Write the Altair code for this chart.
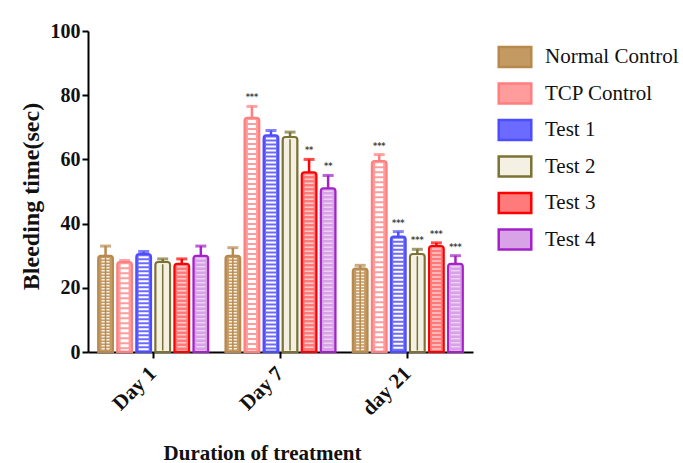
import altair as alt
import pandas as pd

days = ["Day 1", "Day 7", "day 21"]
groups = ["Normal Control", "TCP Control", "Test 1", "Test 2", "Test 3", "Test 4"]

means = {
    "Normal Control": [30, 30, 26],
    "TCP Control": [28, 73, 59.5],
    "Test 1": [30.5, 67.5, 36],
    "Test 2": [28, 67, 30.5],
    "Test 3": [27.5, 56, 33],
    "Test 4": [30, 51, 27.5],
}
errs = {
    "Normal Control": [3, 2.5, 1],
    "TCP Control": [0.5, 3.5, 2],
    "Test 1": [0.8, 1.5, 1.5],
    "Test 2": [1, 1.5, 1.5],
    "Test 3": [1.5, 4, 1],
    "Test 4": [3, 4, 2.5],
}
stars = {
    "Normal Control": ["", "", ""],
    "TCP Control": ["", "***", "***"],
    "Test 1": ["", "", "***"],
    "Test 2": ["", "", "***"],
    "Test 3": ["", "**", "***"],
    "Test 4": ["", "**", "***"],
}

line_colors = ["#b8894d", "#ff7f7f", "#4d4dff", "#7b7233", "#ff0000", "#a321c6"]
fill_colors = ["#c49a63", "#ff9c9c", "#6b6bff", "#f4f1e4", "#ff7a7a", "#d8a2e6"]

rows = []
for g in groups:
    for i, d in enumerate(days):
        rows.append({"day": d, "group": g, "mean": means[g][i], "err": errs[g][i], "star": stars[g][i]})
df = pd.DataFrame(rows)

FONT = "Liberation Serif"

x_enc = alt.X(
    "day:N",
    sort=days,
    scale=alt.Scale(domain=days, paddingInner=0.12, paddingOuter=0.072),
    axis=alt.Axis(
        title="Duration of treatment",
        labelAngle=-45,
        labelAlign="right",
        labelBaseline="middle",
        labelPadding=12,
        labelFontSize=21,
        bandPosition=0.5,
        titleX=174,
        titleY=107,
        titleAlign="center",
        titleBaseline="alphabetic",
    ),
)
xo_enc = alt.XOffset("group:N", scale=alt.Scale(domain=groups, paddingInner=0.22, paddingOuter=0.05))


def y_enc(field):
    return alt.Y(
        field,
        scale=alt.Scale(domain=[0, 100], nice=False),
        axis=alt.Axis(
            title="Bleeding time(sec)",
            values=[0, 20, 40, 60, 80, 100],
            labelFontSize=20,
            titleFontSize=24,
            titleX=-50,
            titleY=165,
            titleAlign="center",
            titleAngle=-90,
            titleBaseline="alphabetic",
        ),
    )


fill_scale = alt.Scale(domain=groups, range=fill_colors)
stroke_scale = alt.Scale(domain=groups, range=line_colors)

legend = alt.Legend(
    title=None,
    orient="none",
    legendX=409,
    legendY=8,
    symbolType="M-1,-0.62H1V0.62H-1Z",
    symbolSize=1060,
    symbolStrokeWidth=2.5,
    labelFont=FONT,
    labelFontSize=21,
    labelColor="#111111",
    labelOffset=12,
    rowPadding=2.5,
)

base = alt.Chart(df)

bars = base.mark_bar(strokeWidth=2, cornerRadiusTopLeft=3, cornerRadiusTopRight=3).encode(
    x=x_enc,
    xOffset=xo_enc,
    y=y_enc("mean:Q"),
    fill=alt.Fill("group:N", scale=fill_scale, legend=legend),
    stroke=alt.Stroke("group:N", scale=stroke_scale, legend=legend),
)


def pattern(group, color, width, dash, opacity=1.0):
    return (
        base.transform_filter(alt.datum.group == group)
        .transform_calculate(ptop="datum.mean - 0.7", pbase="0.5")
        .mark_rule(color=color, strokeWidth=width, strokeDash=dash, opacity=opacity)
        .encode(x=x_enc, xOffset=xo_enc, y=y_enc("ptop:Q"), y2="pbase:Q")
    )


patterns = [
    pattern("Normal Control", "white", 8, [1.5, 1.5], 0.85),
    pattern("Normal Control", "#b8894d", 1.5, [1, 0]),
    pattern("TCP Control", "white", 8, [3, 2]),
    pattern("Test 1", "white", 10, [2, 2]),
    pattern("Test 2", "#7b7233", 1.5, [1, 0]),
    pattern("Test 3", "white", 9, [1.5, 2.5], 0.6),
    pattern("Test 4", "white", 9, [1.5, 2.5], 0.5),
]

err_rules = base.transform_calculate(top="datum.mean + datum.err").mark_rule(strokeWidth=2.5).encode(
    x=x_enc,
    xOffset=xo_enc,
    y=y_enc("mean:Q"),
    y2="top:Q",
    stroke=alt.Stroke("group:N", scale=stroke_scale, legend=None),
)

caps = base.transform_calculate(top="datum.mean + datum.err").mark_tick(size=11, thickness=3).encode(
    x=x_enc,
    xOffset=xo_enc,
    y=y_enc("top:Q"),
    color=alt.Color("group:N", scale=stroke_scale, legend=None),
)

labels = (
    base.transform_filter(alt.datum.star != "")
    .transform_calculate(top="datum.mean + datum.err")
    .mark_text(fontSize=8, dy=-8, color="#444444", font="DejaVu Sans", fontWeight="bold")
    .encode(x=x_enc, xOffset=xo_enc, y=y_enc("top:Q"), text="star:N")
)

chart = (
    alt.layer(bars, *patterns, err_rules, caps, labels)
    .properties(
        width=385,
        height=321,
        padding={"left": 88, "top": 31, "right": 210, "bottom": 111},
        autosize=alt.AutoSizeParams(type="none"),
        background="white",
    )
    .configure_view(stroke=None)
    .configure_axis(
        grid=False,
        domainColor="#000000",
        domainWidth=2,
        tickColor="#000000",
        tickWidth=2,
        tickSize=6,
        labelFont=FONT,
        labelFontWeight="bold",
        labelFontSize=19,
        labelColor="#111111",
        titleFont=FONT,
        titleFontWeight="bold",
        titleFontSize=21,
        titleColor="#111111",
    )
)

chart.save("out.html", embed_options={"renderer": "svg", "actions": False})
